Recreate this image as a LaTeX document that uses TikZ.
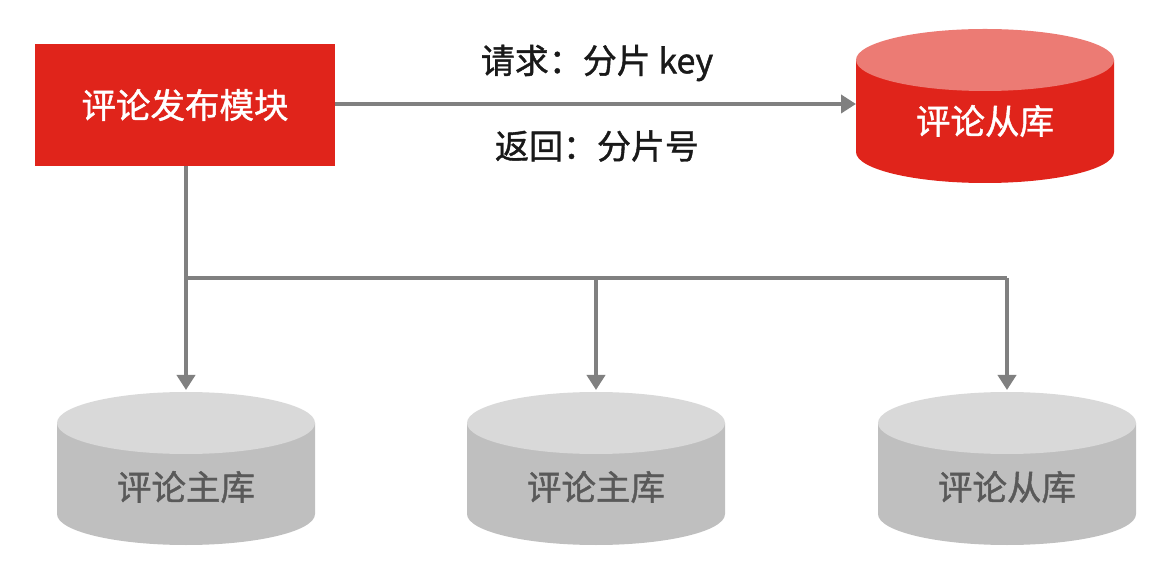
\documentclass[tikz,border=0pt]{standalone}
\usepackage{fontspec}
\setmainfont{Noto Sans CJK SC}[AutoFakeBold=1.2]
\usepackage{tikz}
\usetikzlibrary{positioning, arrows.meta, calc}
\definecolor{cred}{HTML}{E0241B}
\definecolor{credtop}{HTML}{EC7B74}
\definecolor{cgray}{HTML}{BFBFBF}
\definecolor{cgraytop}{HTML}{D9D9D9}
\definecolor{cgraytext}{HTML}{595959}
\definecolor{cline}{HTML}{808080}

\begin{document}
\begin{tikzpicture}[
	x=1pt, y=1pt,
	% Estilo para el modulo de publicacion
	modbox/.style={
		rectangle,
		fill=cred,
		minimum width=300pt,
		minimum height=122pt,
		align=center,
		text=white,
		font=\fontsize{34.5}{40}\selectfont\bfseries
	},
	% Estilo para el texto de las bases de datos
	dblabel/.style={
		font=\fontsize{34.5}{40}\selectfont\bfseries
	},
	% Estilo para los mensajes sobre la flecha
	msg/.style={
		text=black!90,
		font=\fontsize{34}{40}\selectfont\bfseries
	},
	% Estilo para las conexiones
	link/.style={
		draw=cline,
		line width=4pt
	},
	arrowlink/.style={
		link,
		-{Triangle[length=15pt,width=18pt]}
	}
	]
	
	\useasboundingbox (0,0) rectangle (1174,562);
	
	% --- Modulo de publicacion ---
	\node[modbox] (pub) at (185,457) {评论发布模块};
	
	% --- Base de datos esclava (arriba) ---
	\fill[cred] (856,502) -- (856,410)
		arc[start angle=180, end angle=360, x radius=129, y radius=31]
		-- (1114,502) -- cycle;
	\fill[credtop] (985,502) ellipse [x radius=129, y radius=31];
	\node[dblabel, text=white] (slave) at (985,441) {评论从库};
	\coordinate (slaveW) at (856,458);
	
	% --- Bases de datos (abajo) ---
	\foreach \cx/\nm/\txt in {186/db1/评论主库, 596/db2/评论主库, 1007/db3/评论从库}{
		\fill[cgray] ({\cx-129},139) -- ({\cx-129},48)
			arc[start angle=180, end angle=360, x radius=129, y radius=31]
			-- ({\cx+129},139) -- cycle;
		\fill[cgraytop] (\cx,139) ellipse [x radius=129, y radius=31];
		\node[dblabel, text=cgraytext] (\nm) at (\cx,75) {\txt};
		\coordinate (\nm top) at (\cx,172);
		\coordinate (\nm j) at (\cx,284);
	}
	
	% Flecha hacia el esclavo y mensajes
	\draw[arrowlink] (pub.east |- slaveW) -- (slaveW);
	\node[msg] (req) at (597,499) {请求：分片 key};
	\node[msg] (ret) at (597,416) {返回：分片号};
	
	% Conexiones hacia abajo
	\draw[link] (db1j) -- (db3j);
	\draw[arrowlink] (pub.south -| db1top) -- (db1top);
	\draw[arrowlink] (db2j) -- (db2top);
	\draw[arrowlink] (db3j) -- (db3top);
	
\end{tikzpicture}
\end{document}
